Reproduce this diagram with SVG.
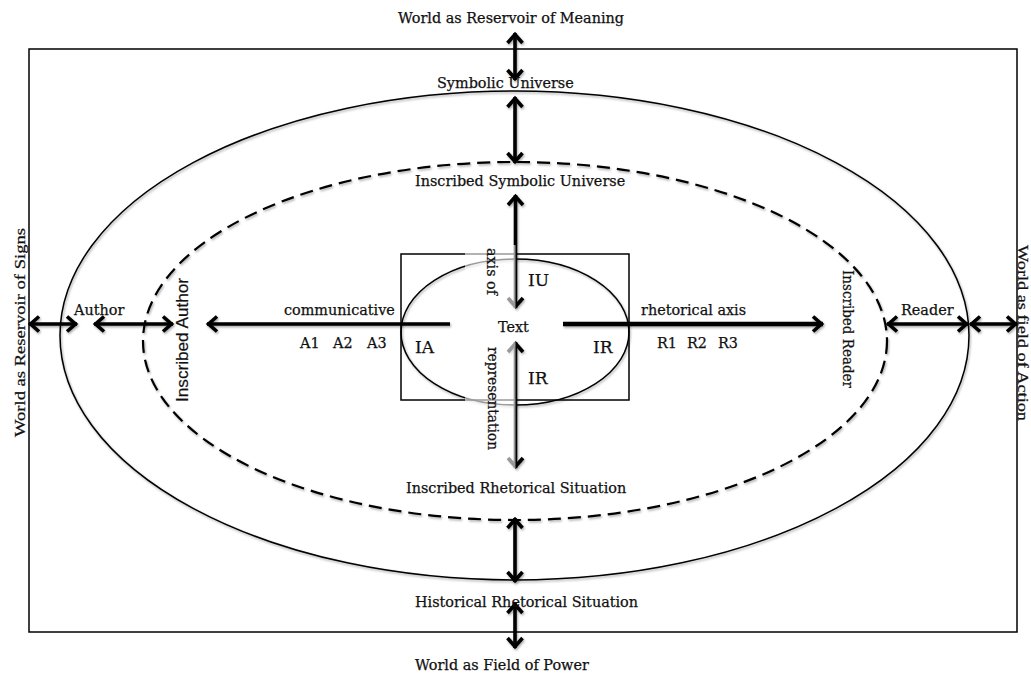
<svg xmlns="http://www.w3.org/2000/svg" width="1031" height="677" viewBox="0 0 1031 677">
<style>
.lbl{font-family:"DejaVu Serif","Liberation Serif",serif;font-size:14.4px;fill:#111;stroke:#111;stroke-width:0.25}
.big{font-size:17px}
.times{font-family:"Liberation Serif","Times New Roman",serif;font-size:15.5px;fill:#111;stroke:#111;stroke-width:0.25}
.sans{font-family:"Liberation Sans",Arial,sans-serif;font-size:16px;fill:#111;stroke:#111;stroke-width:0.2}
.shape{fill:none;stroke:#000;stroke-width:1.5}
.dash{fill:none;stroke:#000;stroke-width:2.2;stroke-dasharray:13 7}
.arr{stroke:#000;stroke-width:3.6;fill:none;marker-start:url(#ah);marker-end:url(#ah)}
.one{stroke:#000;fill:none;marker-end:url(#ah)}
</style>
<defs>
<marker id="ah" viewBox="-13 -10 16 20" refX="0" refY="0" markerWidth="16" markerHeight="20" markerUnits="userSpaceOnUse" orient="auto-start-reverse" overflow="visible">
<path d="M-10,-7.5 L-1.5,0 L-10,7.5" fill="none" stroke="#000" stroke-width="3.6" stroke-linejoin="miter"/>
</marker>
<filter id="sh" filterUnits="userSpaceOnUse" x="0" y="0" width="1031" height="677">
<feDropShadow dx="1" dy="1.5" stdDeviation="1.1" flood-color="#000" flood-opacity="0.35"/>
</filter>
</defs>
<rect width="1031" height="677" fill="#fff"/>

<g id="frame">
<rect class="shape" x="29" y="49" width="988" height="583" stroke-width="1.3"/>
</g>
<g id="symbolic-universe-ellipse" filter="url(#sh)">
<ellipse class="shape" cx="514.5" cy="335.5" rx="454.5" ry="244.5"/>
</g>
<g id="inscribed-ellipse" filter="url(#sh)">
<ellipse class="dash" cx="515" cy="341" rx="372" ry="179"/>
</g>
<g id="text-box">
<rect class="shape" x="401" y="254" width="228" height="146"/>
<ellipse class="shape" cx="515" cy="332" rx="114" ry="73" filter="url(#sh)"/>
</g>

<g id="connectors" filter="url(#sh)">
<line class="arr" x1="29" y1="324" x2="77" y2="324"/>
<line class="arr" x1="94" y1="324" x2="173" y2="324"/>
<line class="one" x1="450" y1="324" x2="207" y2="324" stroke-width="3.4"/>
<line class="one" x1="563" y1="324" x2="823" y2="324" stroke-width="4.6"/>
<line class="arr" x1="887" y1="324" x2="968" y2="324"/>
<line class="arr" x1="970" y1="324" x2="1017" y2="324"/>
<line class="arr" x1="515" y1="33" x2="515" y2="80"/>
<line class="arr" x1="515" y1="97" x2="515" y2="163"/>
<line class="arr" x1="515.5" y1="195" x2="515.5" y2="308"/>
<line class="arr" x1="515.5" y1="342" x2="515.5" y2="468"/>
<line class="arr" x1="515" y1="518" x2="515" y2="582"/>
<line class="arr" x1="515" y1="603" x2="515" y2="648"/>
</g>
<rect id="axis-fade" x="465" y="245" width="50.5" height="226" fill="#fff" fill-opacity="0.6"/>

<g id="world-meaning"><text class="lbl" x="398" y="23">World as Reservoir of Meaning</text></g>
<g id="symbolic-universe"><text class="lbl" x="437" y="88">Symbolic Universe</text></g>
<g id="inscribed-symbolic-universe"><text class="lbl" x="415" y="186">Inscribed Symbolic Universe</text></g>
<g id="world-signs"><text class="times" transform="translate(25,437) rotate(-90)" textLength="209" lengthAdjust="spacingAndGlyphs">World as Reservoir of Signs</text></g>
<g id="world-action"><text class="times" transform="translate(1018,245) rotate(90)" textLength="176" lengthAdjust="spacingAndGlyphs">World as field of Action</text></g>
<g id="author"><text class="lbl" x="74" y="315">Author</text></g>
<g id="inscribed-author"><text class="sans" transform="translate(188,402) rotate(-90)" textLength="124" lengthAdjust="spacingAndGlyphs">Inscribed Author</text></g>
<g id="communicative"><text class="lbl" x="284" y="315">communicative</text>
<text class="lbl" x="300" y="348">A1</text><text class="lbl" x="333" y="348">A2</text><text class="lbl" x="367" y="348">A3</text></g>
<g id="rhetorical"><text class="lbl" x="641" y="315">rhetorical axis</text>
<text class="lbl" x="657" y="348">R1</text><text class="lbl" x="687" y="348">R2</text><text class="lbl" x="718" y="348">R3</text></g>
<g id="inscribed-reader"><text class="lbl" transform="translate(843,270) rotate(90)" textLength="118" lengthAdjust="spacingAndGlyphs">Inscribed Reader</text></g>
<g id="reader"><text class="lbl" x="901" y="315">Reader</text></g>
<g id="text-labels">
<text class="lbl" x="498" y="332" font-size="15">Text</text>
<text class="lbl big" x="528" y="286">IU</text>
<text class="lbl big" x="415" y="353">IA</text>
<text class="lbl big" x="593" y="353">IR</text>
<text class="lbl big" x="528" y="384">IR</text>
<text class="lbl" transform="translate(487,248) rotate(90)" textLength="47" lengthAdjust="spacingAndGlyphs">axis of</text>
<text class="lbl" transform="translate(488,347) rotate(90)" textLength="103" lengthAdjust="spacingAndGlyphs">representation</text>
</g>
<g id="inscribed-rhetorical-situation"><text class="lbl" x="406" y="493">Inscribed Rhetorical Situation</text></g>
<g id="historical-rhetorical-situation"><text class="lbl" x="415" y="607">Historical Rhetorical Situation</text></g>
<g id="world-power"><text class="lbl" x="415" y="670">World as Field of Power</text></g>
</svg>
